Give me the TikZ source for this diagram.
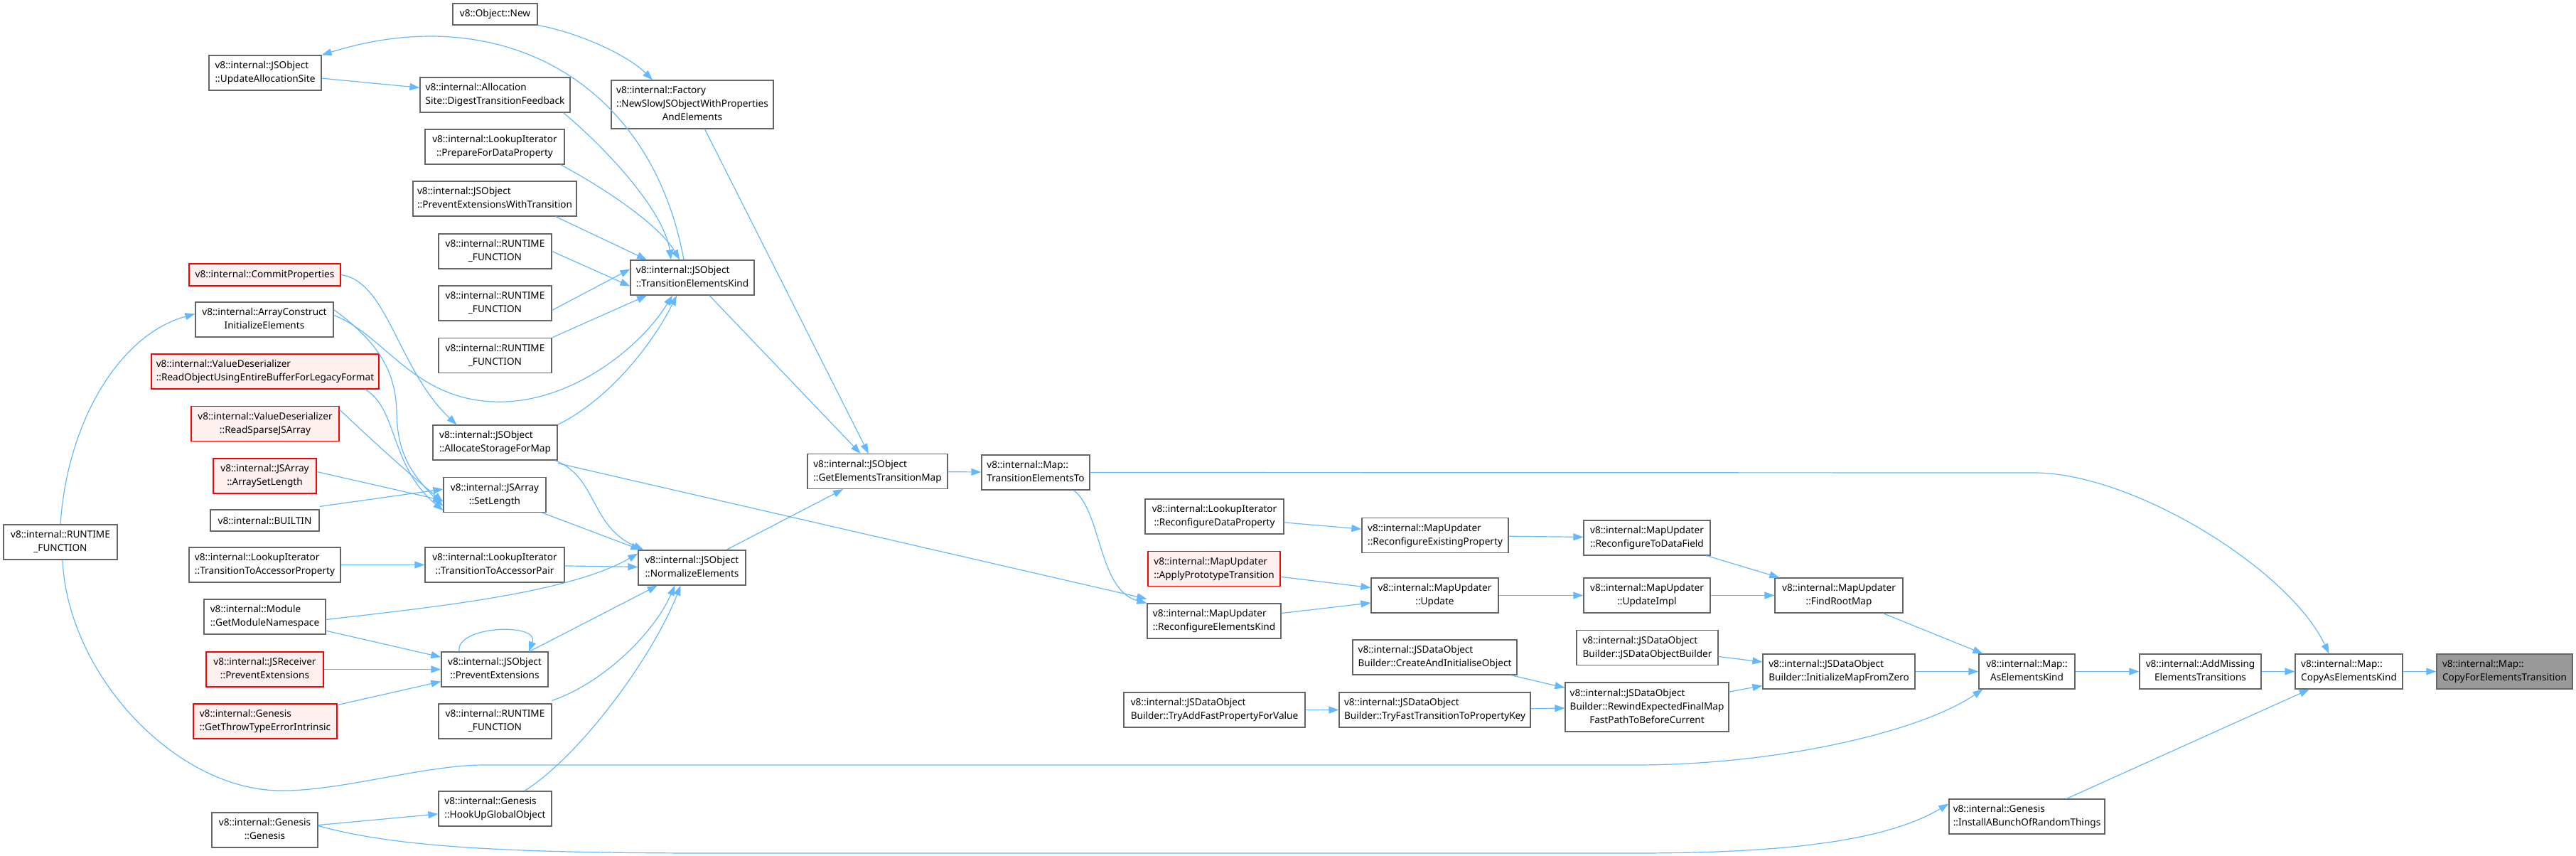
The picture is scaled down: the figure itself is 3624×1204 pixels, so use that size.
\documentclass[tikz,border=0pt]{standalone}
\usepackage{fontspec}
\setmainfont{Noto Sans}
\usetikzlibrary{arrows.meta}

\newcommand{\twoline}[2]{\begin{tabular}{@{}l@{}}#1\\\multicolumn{1}{@{}c@{}}{#2}\end{tabular}}
\newcommand{\threeline}[3]{\begin{tabular}{@{}l@{}}#1\\#2\\\multicolumn{1}{@{}c@{}}{#3}\end{tabular}}
\newcommand{\rtfn}{\twoline{v8::internal::RUNTIME}{\_FUNCTION}}

\tikzset{every picture/.style={line width=0.75pt}}
\tikzset{
  fn/.style={draw={rgb, 255:red, 102; green, 102; blue, 102}, line width=0.6pt, fill=white, inner sep=0pt, minimum height=24.5pt, font=\fontsize{6.8}{9.5}\selectfont},
  fnred/.style={fn, draw={rgb, 255:red, 255; green, 0; blue, 0}, fill={rgb, 255:red, 255; green, 240; blue, 240}},
  fngrey/.style={fn, fill={rgb, 255:red, 153; green, 153; blue, 153}},
  bw/.style={minimum width=#1*0.5pt},
  oneline/.style={minimum height=15pt},
  edge/.style={draw={rgb, 255:red, 99; green, 184; blue, 255}, line width=0.6pt, -{Triangle[length=7pt,width=5pt]}},
}

\begin{document}
\begin{tikzpicture}[x=0.5pt,y=0.5pt,yscale=-1,xscale=1]
\useasboundingbox (0,0) rectangle (3624,1204);

% Node: far left
\draw (85,762.5) node [fn,bw=160] (rtL) {\rtfn};

% Node: second column
\draw (373,102.5) node [fn,bw=158] (ufo) {\twoline{v8::internal::JSObject}{::UpdateAllocationSite}};
\draw (372.5,386.5) node [fnred,bw=213,minimum height=15.5pt] (cp) {v8::internal::CommitProperties};
\draw (372,449.5) node [fn,bw=194] (aci) {\twoline{v8::internal::ArrayConstruct}{InitializeElements}};
\draw (373,522.5) node [fnred,bw=320] (rob) {\twoline{v8::internal::ValueDeserializer}{::ReadObjectUsingEntireBufferForLegacyFormat}};
\draw (373,596) node [fnred,bw=208] (rsa) {\twoline{v8::internal::ValueDeserializer}{::ReadSparseJSArray}};
\draw (372.5,669.5) node [fnred,bw=145] (asl) {\twoline{v8::internal::JSArray}{::ArraySetLength}};
\draw (372.5,732) node [fn,oneline,bw=153] (bi) {v8::internal::BUILTIN};
\draw (372.5,794.5) node [fn,bw=213] (tap) {\twoline{v8::internal::LookupIterator}{::TransitionToAccessorProperty}};
\draw (372.5,867.5) node [fn,bw=171] (gmn) {\twoline{v8::internal::Module}{::GetModuleNamespace}};
\draw (372.5,941.5) node [fnred,bw=165] (rpe) {\twoline{v8::internal::JSReceiver}{::PreventExtensions}};
\draw (373,1014.5) node [fnred,bw=202] (gte) {\twoline{v8::internal::Genesis}{::GetThrowTypeErrorIntrinsic}};
\draw (372.5,1167.5) node [fn,bw=149] (gen) {\twoline{v8::internal::Genesis}{::Genesis}};

% Node: third column
\draw (696.5,20) node [fn,oneline,bw=119] (onew) {v8::Object::New};
\draw (696.5,133.5) node [fn,bw=211] (dtf) {\twoline{v8::internal::Allocation}{Site::DigestTransitionFeedback}};
\draw (696,206.5) node [fn,bw=196] (pdp) {\twoline{v8::internal::LookupIterator}{::PrepareForDataProperty}};
\draw (696,279.5) node [fn,bw=230] (pewt) {\twoline{v8::internal::JSObject}{::PreventExtensionsWithTransition}};
\draw (696.5,353.5) node [fn,bw=159] (rta) {\rtfn};
\draw (696.5,426.5) node [fn,bw=159] (rtb) {\rtfn};
\draw (696.5,500) node [fn,bw=159] (rtc) {\rtfn};
\draw (696.5,622.5) node [fn,bw=175] (asm) {\twoline{v8::internal::JSObject}{::AllocateStorageForMap}};
\draw (696,696) node [fn,bw=144] (jsl) {\twoline{v8::internal::JSArray}{::SetLength}};
\draw (696,794.5) node [fn,bw=196] (tapair) {\twoline{v8::internal::LookupIterator}{::TransitionToAccessorPair}};
\draw (696,941.5) node [fn,bw=150] (jpe) {\twoline{v8::internal::JSObject}{::PreventExtensions}};
\draw (696.5,1014.5) node [fn,bw=159] (rtd) {\rtfn};
\draw (696.5,1137.5) node [fn,bw=159] (hug) {\twoline{v8::internal::Genesis}{::HookUpGlobalObject}};

% Node: fourth column
\draw (974,147) node [fn,bw=228,minimum height=34pt] (fac) {\threeline{v8::internal::Factory}{::NewSlowJSObjectWithProperties}{AndElements}};
\draw (974,390.5) node [fn,bw=174] (tek) {\twoline{v8::internal::JSObject}{::TransitionElementsKind}};
\draw (973.5,798.5) node [fn,bw=151] (ne) {\twoline{v8::internal::JSObject}{::NormalizeElements}};

% Node: middle
\draw (1234.5,663) node [fn,bw=197] (getm) {\twoline{v8::internal::JSObject}{::GetElementsTransitionMap}};
\draw (1457,664.5) node [fn,bw=152] (mte) {\twoline{v8::internal::Map::}{TransitionElementsTo}};
\draw (1708.5,726.5) node [fn,bw=195] (rdp) {\twoline{v8::internal::LookupIterator}{::ReconfigureDataProperty}};
\draw (1708,800) node [fnred,bw=186] (apt) {\twoline{v8::internal::MapUpdater}{::ApplyPrototypeTransition}};
\draw (1708,873.5) node [fn,bw=188] (rek) {\twoline{v8::internal::MapUpdater}{::ReconfigureElementsKind}};
\draw (1708.5,998.5) node [fn,bw=255] (tafp) {\twoline{v8::internal::JSDataObject}{Builder::TryAddFastPropertyForValue}};
\draw (2019,753) node [fn,bw=206] (rep) {\twoline{v8::internal::MapUpdater}{::ReconfigureExistingProperty}};
\draw (2018.5,837.5) node [fn,bw=179] (upd) {\twoline{v8::internal::MapUpdater}{::Update}};
\draw (2018.5,924.5) node [fn,bw=231] (cai) {\twoline{v8::internal::JSDataObject}{Builder::CreateAndInitialiseObject}};
\draw (2018.5,998.5) node [fn,bw=269] (tft) {\twoline{v8::internal::JSDataObject}{Builder::TryFastTransitionToPropertyKey}};
\draw (2317,756.5) node [fn,bw=178] (rtdf) {\twoline{v8::internal::MapUpdater}{::ReconfigureToDataField}};
\draw (2317,837.5) node [fn,bw=178] (uimp) {\twoline{v8::internal::MapUpdater}{::UpdateImpl}};
\draw (2317.5,911) node [fn,bw=199] (jdob) {\twoline{v8::internal::JSDataObject}{Builder::JSDataObjectBuilder}};
\draw (2317,994.5) node [fn,bw=230,minimum height=34.5pt] (rew) {\threeline{v8::internal::JSDataObject}{Builder::RewindExpectedFinalMap}{FastPathToBeforeCurrent}};

% Node: right
\draw (2587,837.5) node [fn,bw=180] (frm) {\twoline{v8::internal::MapUpdater}{::FindRootMap}};
\draw (2587,944.5) node [fn,bw=214] (imz) {\twoline{v8::internal::JSDataObject}{Builder::InitializeMapFromZero}};
\draw (2851.5,944.5) node [fn,bw=135] (aek) {\twoline{v8::internal::Map::}{AsElementsKind}};
\draw (2851.5,1148.5) node [fn,bw=219] (iab) {\twoline{v8::internal::Genesis}{::InstallABunchOfRandomThings}};
\draw (3095.5,944.5) node [fn,bw=171] (amet) {\twoline{v8::internal::AddMissing}{ElementsTransitions}};
\draw (3304.5,944.5) node [fn,bw=151] (caek) {\twoline{v8::internal::Map::}{CopyAsElementsKind}};
\draw (3523.5,944.5) node [fngrey,bw=191] (cfet) {\twoline{v8::internal::Map::}{CopyForElementsTransition}};

% Edge: into TransitionElementsKind
\draw [edge] (onew.south east) .. controls (810,45) and (880,75) .. ([xshift=-28pt]fac.north);
\draw [edge] (ufo) -- (dtf);
\draw [edge] ([xshift=-5pt]dtf.south east) .. controls (860,215) and (935,300) .. ([xshift=-15pt]tek.north);
\draw [edge] ([xshift=-3pt]pdp.south east) .. controls (860,270) and (930,320) .. ([xshift=-9pt]tek.north);
\draw [edge] ([xshift=-15pt]pewt.south east) -- ([xshift=-32pt]tek.north);
\draw [edge] (rta.east) -- ([yshift=6pt]tek.west);
\draw [edge] ([yshift=5pt]rtb.east) -- ([yshift=-6pt]tek.west);
\draw [edge] (rtc.north east) -- ([xshift=-32pt]tek.south);
\draw [edge] ([yshift=-3pt]aci.east) .. controls (540,470) and (580,560) .. (693,565) .. controls (800,570) and (900,490) .. ([xshift=-14pt]tek.south);
\draw [edge] (asm.north east) .. controls (860,560) and (920,480) .. ([xshift=-11pt]tek.south);
\draw [edge] ([xshift=-6pt]tek.north) .. controls (915,110) and (700,0) .. (ufo.north east);

% Edge: into GetElementsTransitionMap
\draw [edge] (fac) -- (getm);
\draw [edge] (tek) -- (getm);
\draw [edge] (ne) -- (getm);
\draw [edge] (getm) -- (mte);
\draw [edge] (mte.east) -- (2862,665) .. controls (3000,665) and (3220,800) .. ([xshift=-14pt]caek.north);
\draw [edge] ([xshift=-11.5pt]mte.south east) .. controls (1550,720) and (1545,830) .. (rek.north west);

% Edge: AllocateStorageForMap
\draw [edge] (cp.east) .. controls (545,395) and (560,520) .. ([xshift=-27pt]asm.north);
\draw [edge] ([yshift=2pt]asm.south east) -- ([yshift=-3pt]rek.north west);
\draw [edge] ([xshift=-2pt]asm.south east) .. controls (840,670) and (830,740) .. ([xshift=4pt]ne.north west);

% Edge: into SetLength
\draw [edge] ([yshift=-7pt]aci.east) .. controls (530,480) and (557,520) .. (558,580) .. controls (559,640) and (580,668) .. ([yshift=8pt]jsl.west);
\draw [edge] ([xshift=-10pt]rob.south east) .. controls (560,575) and (548,655) .. ([yshift=11pt]jsl.west);
\draw [edge] ([yshift=-10pt]rsa.east) .. controls (540,635) and (580,670) .. ([yshift=5pt]jsl.west);
\draw [edge] ([yshift=-3pt]asl.east) -- ([yshift=4pt]jsl.west);
\draw [edge] ([yshift=-2pt]bi.north east) -- ([yshift=-4pt]jsl.west);
\draw [edge] ([xshift=-3pt]jsl.south east) -- ([xshift=2pt]ne.north west);

% Edge: RUNTIME_FUNCTION far left
\draw [edge] (rtL.north) .. controls (95,590) and (170,470) .. ([yshift=-4pt]aci.west);
\draw [edge] ([xshift=1.5pt]rtL.south) .. controls (95,950) and (250,1115) .. (400,1112) .. controls (480,1112) and (600,1076) .. (680,1076) -- (2300,1076) .. controls (2500,1076) and (2700,1030) .. ([xshift=3pt]aek.south west);

% Edge: into NormalizeElements
\draw [edge] (tap) -- (tapair);
\draw [edge] (tapair) -- (ne);
\draw [edge] ([yshift=2pt]gmn.east) .. controls (600,855) and (800,835) .. ([yshift=-10pt]ne.west);
\draw [edge] (gmn) -- (jpe);
\draw [edge] (rpe) -- (jpe);
\draw [edge] (gte) -- (jpe);
\draw [edge] ([xshift=-25pt]jpe.north) .. controls (640,880) and (760,875) .. ([xshift=24pt]jpe.north);
\draw [edge] (jpe) -- (ne);
\draw [edge] ([yshift=-2pt]rtd.north east) .. controls (850,960) and (920,890) .. ([xshift=-12pt]ne.south);
\draw [edge] ([xshift=20.75pt]hug.north) .. controls (820,1060) and (920,920) .. ([xshift=-8pt]ne.south);
\draw [edge] (gen) -- (hug);
\draw [edge] ([yshift=-3pt]gen.east) .. controls (550,1190) and (700,1200) .. (1000,1200) -- (2300,1200) .. controls (2500,1200) and (2650,1185) .. ([yshift=-9pt]iab.west);

% Edge: MapUpdater and JSDataObjectBuilder chains
\draw [edge] (rdp) -- (rep);
\draw [edge] (rep) -- (rtdf);
\draw [edge] (apt) -- (upd);
\draw [edge] (rek) -- (upd);
\draw [edge] (upd) -- (uimp);
\draw [edge] (rtdf) -- (frm);
\draw [edge] (uimp) -- (frm);
\draw [edge] (frm) -- (aek);
\draw [edge] (tafp) -- (tft);
\draw [edge] (tft) -- (rew);
\draw [edge] (cai) -- (rew);
\draw [edge] (jdob) -- (imz);
\draw [edge] (rew) -- (imz);
\draw [edge] (imz) -- (aek);
\draw [edge] (aek) -- (amet);
\draw [edge] (amet) -- (caek);
\draw [edge] (caek) -- (cfet);
\draw [edge] (iab) -- (caek);

\end{tikzpicture}
\end{document}
